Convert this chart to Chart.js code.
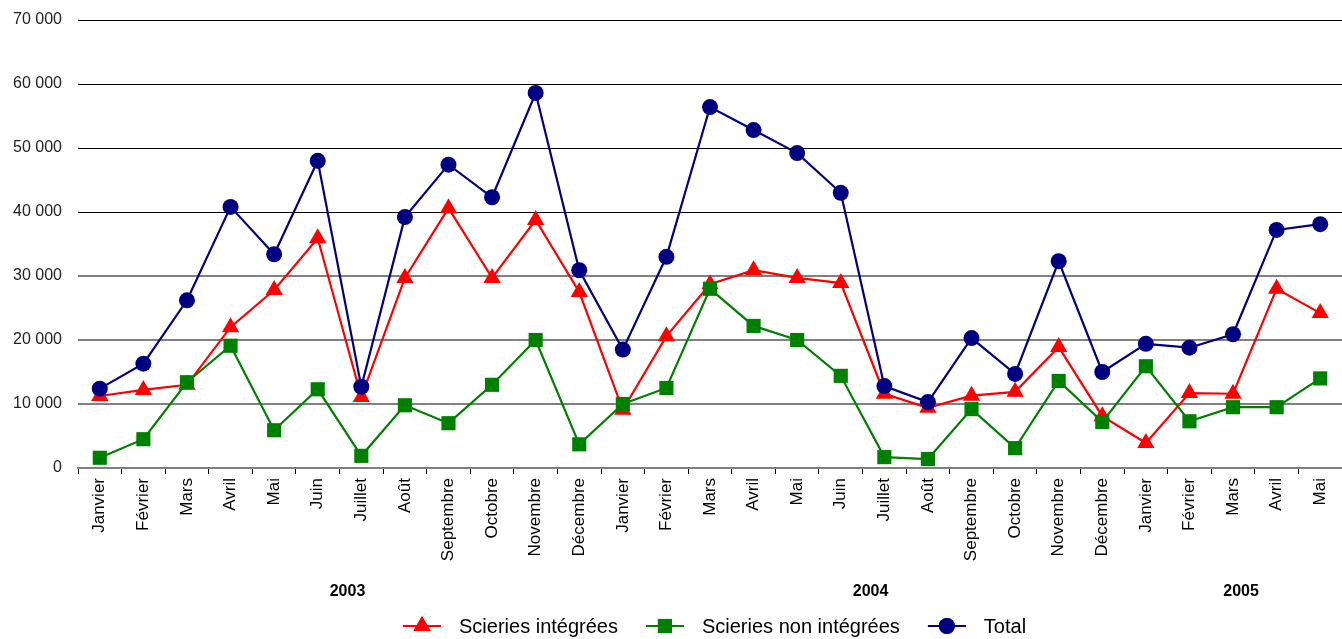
<!DOCTYPE html>
<html>
<head>
<meta charset="utf-8">
<script src="https://cdn.jsdelivr.net/npm/chart.js@4.4.0/dist/chart.umd.min.js"></script>
<style>
  html, body { margin: 0; padding: 0; background: #fff; overflow: hidden; }
  #wrap { width: 1342px; height: 639px; position: relative; }
</style>
</head>
<body>
<div id="wrap"><canvas id="mainChart" width="1342" height="639"></canvas></div>
<script>
// --- données ---
const MONTHS = ['Janvier', 'Février', 'Mars', 'Avril', 'Mai', 'Juin', 'Juillet', 'Août', 'Septembre', 'Octobre', 'Novembre', 'Décembre',
                'Janvier', 'Février', 'Mars', 'Avril', 'Mai', 'Juin', 'Juillet', 'Août', 'Septembre', 'Octobre', 'Novembre', 'Décembre',
                'Janvier', 'Février', 'Mars', 'Avril', 'Mai'];
const YEARS = ['2003', '2004', '2005'];
const YEAR_FIRST = [0, 12, 24];   // premier mois de chaque année
const YEAR_LAST = [11, 23, 28];   // dernier mois

const INTEGREES = [11250, 12200, 13000, 22000, 27800, 35900, 11100, 29700, 40600, 29700, 38750, 27500,
                   9100, 20600, 28700, 30900, 29700, 28900, 11600, 9400, 11300, 11900, 18900, 8100,
                   3900, 11700, 11600, 28000, 24200];
const NON_INTEGREES = [1600, 4500, 13400, 19100, 5900, 12300, 1900, 9800, 7000, 13000, 20000, 3700,
                       10000, 12500, 28000, 22200, 20000, 14400, 1700, 1400, 9200, 3100, 13600, 7200,
                       15900, 7300, 9500, 9500, 14000];
const TOTAL = [12400, 16300, 26200, 40800, 33400, 48000, 12700, 39200, 47400, 42300, 58600, 30900,
               18500, 33000, 56400, 52800, 49200, 43000, 12800, 10300, 20300, 14700, 32300, 15000,
               19400, 18800, 20900, 37200, 38100];

const SERIES = [
    { label: 'Scieries intégrées', data: INTEGREES, color: '#ff0000', point: 'triangle', radius: 10, order: 3 },
    { label: 'Scieries non intégrées', data: NON_INTEGREES, color: '#008000', point: 'rect', radius: 10, order: 2 },
    { label: 'Total', data: TOTAL, color: '#000080', point: 'circle', radius: 8, order: 1 }
];

const FONT = 'Arial, "Liberation Sans", sans-serif';

// années sous les mois
const yearPlugin = {
    id: 'years',
    afterDraw(chart) {
        const ctx = chart.ctx;
        const x = chart.scales.x;
        ctx.save();
        ctx.font = 'bold 16px ' + FONT;
        ctx.fillStyle = '#000';
        ctx.textAlign = 'center';
        ctx.textBaseline = 'middle';
        YEARS.forEach((y, i) => {
            const cx = (x.getPixelForValue(YEAR_FIRST[i]) + x.getPixelForValue(YEAR_LAST[i])) / 2;
            ctx.fillText(y, cx + 8, 592);
        });
        ctx.restore();
    }
};

// légende maison (ligne + marqueur)
const legendPlugin = {
    id: 'lineLegend',
    afterDraw(chart) {
        const ctx = chart.ctx;
        const y = 626;
        const lineLen = 38, gap = 20, between = 26;
        ctx.save();
        ctx.font = '20px ' + FONT;
        ctx.textBaseline = 'middle';
        const widths = SERIES.map(s => ctx.measureText(s.label).width);
        let x = 403;
        SERIES.forEach((s, i) => {
            ctx.strokeStyle = s.color;
            ctx.lineWidth = 2;
            ctx.beginPath();
            ctx.moveTo(x, y);
            ctx.lineTo(x + lineLen, y);
            ctx.stroke();
            ctx.fillStyle = s.color;
            Chart.helpers.drawPoint(ctx, { pointStyle: s.point, radius: s.radius, rotation: 0, borderWidth: 0 }, x + lineLen / 2, y);
            ctx.fill();
            ctx.fillStyle = '#000';
            ctx.fillText(s.label, x + lineLen + gap - 2, y + 1);
            x += lineLen + gap + widths[i] + between;
        });
        ctx.restore();
    }
};

function fmt(v) {
    return String(v).replace(/\B(?=(\d{3})+(?!\d))/g, ' ');
}

function initChart() {
    const ctx = document.getElementById('mainChart').getContext('2d');
    new Chart(ctx, {
        type: 'line',
        data: {
            labels: MONTHS,
            datasets: SERIES.map(s => ({
                label: s.label,
                data: s.data,
                borderColor: s.color,
                backgroundColor: s.color,
                pointBackgroundColor: s.color,
                pointBorderColor: s.color,
                pointBorderWidth: 0,
                pointStyle: s.point,
                pointRadius: s.radius,
                pointHoverRadius: s.radius,
                borderWidth: 2.2,
                tension: 0,
                clip: false,
                order: s.order
            }))
        },
        options: {
            responsive: false,
            animation: false,
            layout: { autoPadding: false, padding: { top: 20, right: 0, left: 0, bottom: 0 } },
            plugins: { legend: { display: false }, tooltip: { enabled: false } },
            scales: {
                x: {
                    offset: true,
                    grid: { offset: true, drawOnChartArea: false, drawTicks: true, tickLength: 6, color: '#000' },
                    border: { color: '#808080', width: 2 },
                    ticks: {
                        minRotation: 90, maxRotation: 90, autoSkip: false, padding: 4,
                        color: '#000', font: { family: FONT, size: 17 }
                    },
                    afterFit(scale) { scale.height = 171; scale.paddingLeft = 0; scale.paddingRight = 0; }
                },
                y: {
                    min: 0, max: 70000,
                    border: { display: false },
                    grid: {
                        drawTicks: false,
                        color: c => c.tick.value >= 40000 ? '#000' : '#808080',
                        lineWidth: c => c.tick.value >= 40000 ? 1 : 2
                    },
                    ticks: {
                        stepSize: 10000, padding: 16,
                        color: '#222', font: { family: FONT, size: 16 },
                        callback: v => fmt(v)
                    },
                    afterFit(scale) { scale.width = 78; scale.paddingTop = 0; scale.paddingBottom = 0; }
                }
            }
        },
        plugins: [yearPlugin, legendPlugin]
    });
}

window.onload = initChart;
</script>
</body>
</html>
